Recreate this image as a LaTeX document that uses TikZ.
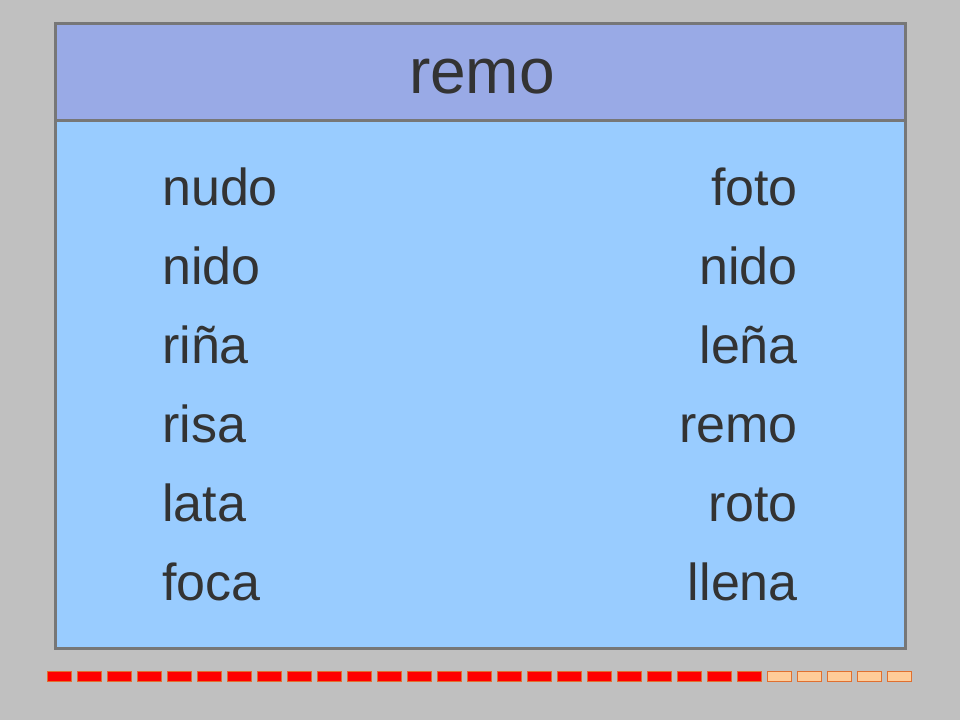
\documentclass[tikz,border=0pt]{standalone}
\usepackage{fontspec}
\setmainfont{Liberation Sans}
\definecolor{pagegray}{HTML}{C0C0C0}
\definecolor{headblue}{HTML}{99AAE6}
\definecolor{bodyblue}{HTML}{99CCFF}
\definecolor{framegray}{HTML}{777777}
\definecolor{inkgray}{HTML}{333333}
\definecolor{doneorange}{HTML}{E07030}
\definecolor{todofill}{HTML}{FFCC99}
\tikzset{
  word/.style={inner sep=0pt, text=inkgray, font=\fontsize{52}{52}\selectfont},
  done/.style={draw=doneorange, fill=red, line width=1pt},
  todo/.style={draw=doneorange, fill=todofill, line width=1pt}
}
\begin{document}
\begin{tikzpicture}[x=1pt, y=-1pt]
  \fill[pagegray] (0,0) rectangle (960,720);
  \useasboundingbox (0,0) rectangle (960,720);
  % card
  \fill[bodyblue] (55,120) rectangle (905,648);
  \fill[headblue] (55,23) rectangle (905,120);
  \draw[framegray, line width=3pt] (55,120) -- (905,120);
  \draw[framegray, line width=3pt] (55,23) rectangle (905,648);
  \node[inner sep=0pt, text=inkgray, font=\fontsize{64}{64}\selectfont, anchor=base]
    (title) at (482,93) {remo};
  % word columns
  \foreach \l/\r [count=\i from 0] in {nudo/foto, nido/nido, riña/leña,
      risa/remo, lata/roto, foca/llena} {
    \node[word, anchor=base west] (left\i) at (162,205+79*\i) {\l};
    \node[word, anchor=base east] (right\i) at (798,205+79*\i) {\r};
  }
  % progress bar
  \foreach \k in {0,...,23}
    \draw[done] (47+30*\k,671) rectangle ++(24,10);
  \foreach \k in {24,...,28}
    \draw[todo] (47+30*\k,671) rectangle ++(24,10);
\end{tikzpicture}
\end{document}
